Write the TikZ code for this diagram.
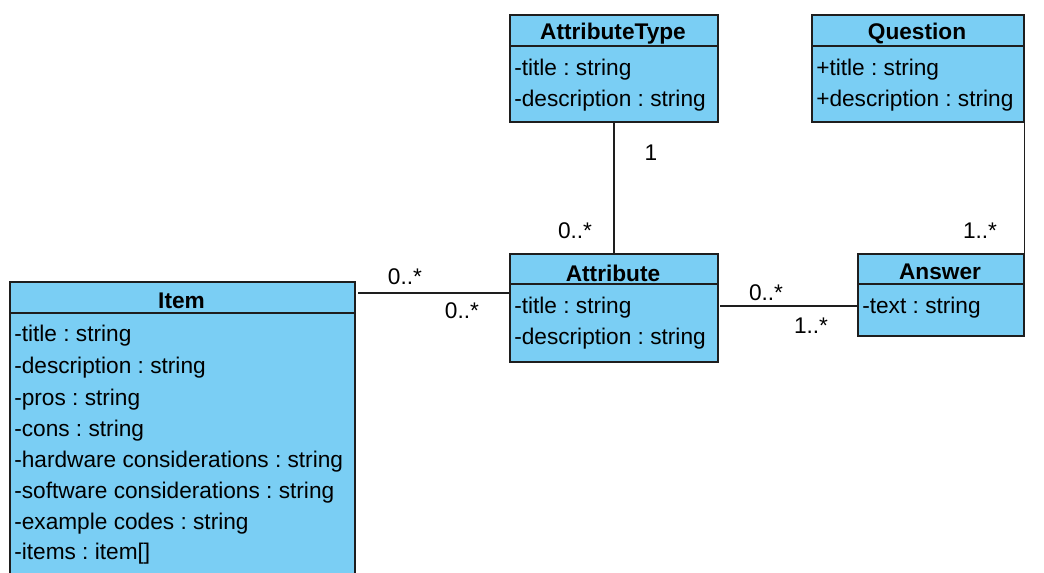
\documentclass[tikz,border=0pt]{standalone}
\usepackage{fontspec}
\setmainfont{Liberation Sans}
\definecolor{classblue}{RGB}{122,206,244}
\definecolor{umlline}{RGB}{30,30,30}

\begin{document}
\frenchspacing
\begin{tikzpicture}[x=0.75pt,y=0.75pt,yscale=-1,xscale=1,
  font=\fontsize{17}{20}\selectfont,
  classbox/.style={draw=umlline, fill=classblue, line width=1.2pt, anchor=north west, inner sep=0pt},
  classname/.style={font=\fontsize{17}{20}\selectfont\bfseries, inner sep=0.75pt, yshift=-2.25pt},
  member/.style={anchor=west, inner sep=0.75pt, yshift=-2.25pt},
  mult/.style={inner sep=0.75pt},
  assoc/.style={draw=umlline, line width=1.2pt}]
\useasboundingbox (0,0) rectangle (1044,573);
\clip (0,0) rectangle (1044,573);

%Shape: Class Item
\node[classbox, minimum width=258.75pt, minimum height=240pt] (item) at (9,281) {};
\draw[assoc] (9,313) -- (354,313);
\node[classname] (itemname) at (181.5,298) {Item};
\foreach \y/\txt [count=\i] in {333/{-title : string}, 365/{-description : string},
    397/{-pros : string}, 428/{-cons : string},
    459/{-hardware considerations : string}, 490/{-software considerations : string},
    521/{-example codes : string}, 551/{-items : item[]}}
  \node[member] (item-m\i) at (13,\y) {\txt};

%Shape: Class AttributeType
\node[classbox, minimum width=156pt, minimum height=80.25pt] (attrtype) at (509,14) {};
\draw[assoc] (509,46) -- (717,46);
\node[classname] (attrtypename) at (613,31) {AttributeType};
\node[member] (attrtype-m1) at (513,67) {-title : string};
\node[member] (attrtype-m2) at (513,98) {-description : string};

%Shape: Class Question
\node[classbox, minimum width=159pt, minimum height=80.25pt] (question) at (811,14) {};
\draw[assoc] (811,46) -- (1023,46);
\node[classname] (questionname) at (917,31) {Question};
\node[member] (question-m1) at (815,67) {+title : string};
\node[member] (question-m2) at (815,98) {+description : string};

%Shape: Class Attribute
\node[classbox, minimum width=156pt, minimum height=81pt] (attribute) at (509,253) {};
\draw[assoc] (509,284) -- (717,284);
\node[classname] (attributename) at (613,270) {Attribute};
\node[member] (attribute-m1) at (513,305) {-title : string};
\node[member] (attribute-m2) at (513,336) {-description : string};

%Shape: Class Answer
\node[classbox, minimum width=124.5pt, minimum height=61.5pt] (answer) at (857,253) {};
\draw[assoc] (857,284) -- (1023,284);
\node[classname] (answername) at (940,269) {Answer};
\node[member] (answer-m1) at (861,305) {-text : string};

%Associations
\coordinate (itemlink) at (358,293);
\coordinate (attrlink) at (720,306);
\draw[assoc] (attrtype) -- (attribute);
\draw[assoc] (itemlink) -- (itemlink -| attribute.west);
\draw[assoc] (attrlink) -- (attrlink -| answer.west);
\draw[assoc] (question.south east) -- (answer.north east);

% Multiplicities
\node[mult] (m-type) at (651,153) {1};
\node[mult] (m-attrtop) at (575,231) {0..*};
\node[mult] (m-itemside) at (405,277) {0..*};
\node[mult] (m-attrleft) at (462,311) {0..*};
\node[mult] (m-attrright) at (766,293) {0..*};
\node[mult] (m-answerleft) at (811,326) {1..*};
\node[mult] (m-answertop) at (980,231) {1..*};

\end{tikzpicture}
\end{document}
